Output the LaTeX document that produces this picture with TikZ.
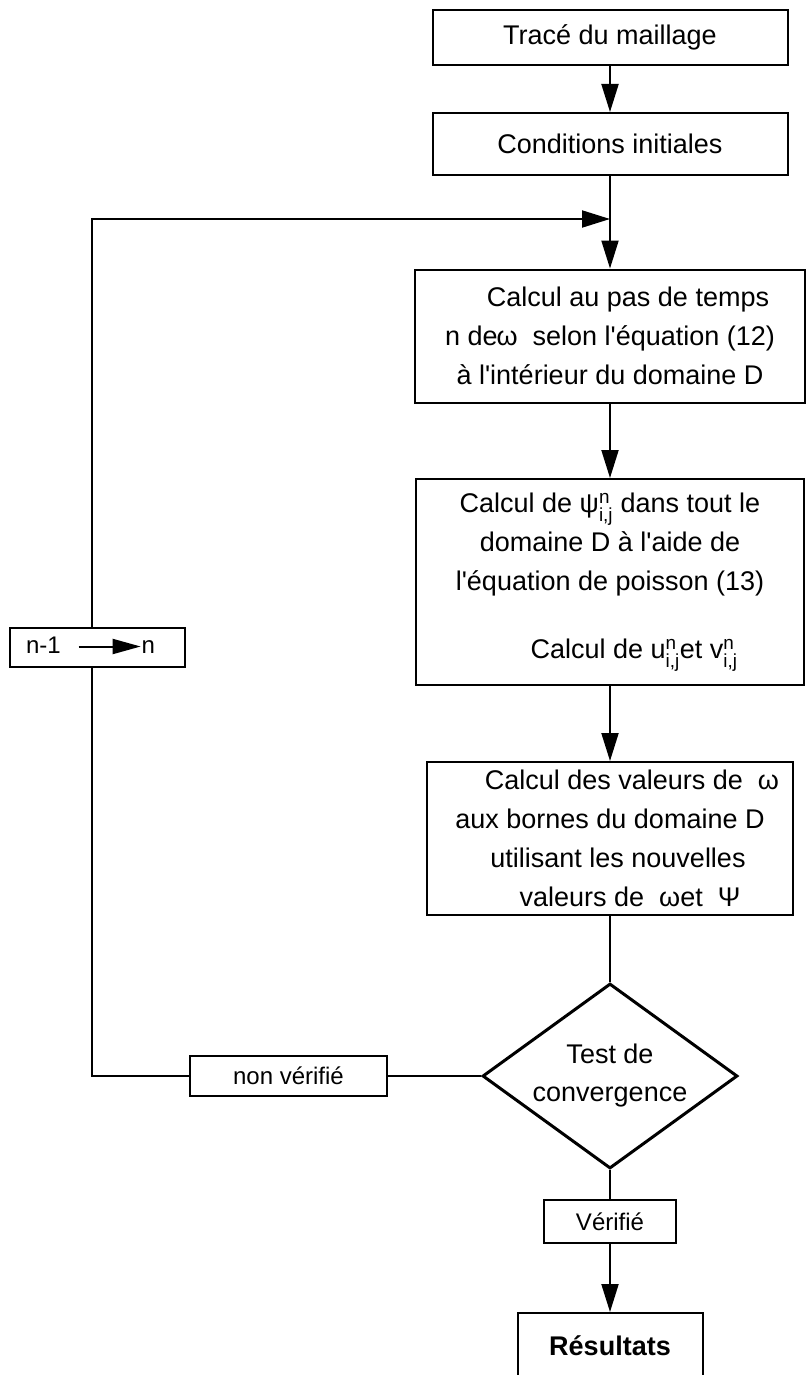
\documentclass[tikz,border=0pt]{standalone}
\usepackage{fontspec}
\defaultfontfeatures[\rmfamily]{}
\setmainfont{Liberation Sans}
\usepackage{amsmath}
\usetikzlibrary{arrows.meta,shapes.geometric}

% indices n / i,j empiles
\newcommand{\nij}{\ensuremath{^{\text{n}}_{\text{i,j}}}}

\begin{document}
\begin{tikzpicture}[x=1pt, y=-1pt, line width=2pt, line join=miter,
  boite/.style={draw, line width=2pt, inner sep=0pt, align=center,
    font=\fontsize{27}{39}\selectfont},
  petite/.style={draw, line width=2pt, inner sep=0pt,
    font=\fontsize{24}{30}\selectfont},
  decision/.style={diamond, draw, line width=3pt, inner sep=0pt,
    minimum width=255pt, minimum height=185pt},
  fleche/.style={-{Triangle[width=17pt,length=28pt]}}]

  %% ════ cadre ════
  \useasboundingbox (0,0) rectangle (808,1375);
  \clip (0,0) rectangle (808,1375);

  %% ════ colonne principale ════
  \node[boite, minimum width=355pt, minimum height=55pt] (trace) at (610,37.5) {Tracé du maillage};
  \node[boite, minimum width=355pt, minimum height=62pt] (cond) at (610,144) {Conditions initiales};
  \node[boite, minimum width=390pt, minimum height=133pt] (pas) at (610,336) {%
    \hspace*{36pt}Calcul au pas de temps\\
    n de\kern-1pt ω\ \ selon l'équation (12)\\
    à l'intérieur du domaine D};
  \node[boite, minimum width=388pt, minimum height=206pt] (psi) at (610,582) {%
    Calcul de ψ\nij\ dans tout le\\
    domaine D à l'aide de\\
    l'équation de poisson (13)\\[29pt]
    \hspace*{48pt}Calcul de u\nij et v\nij};
  \node[boite, minimum width=366pt, minimum height=153pt] (bornes) at (610,838.5) {%
    \hspace*{44pt}Calcul des valeurs de\ \ ω\\
    aux bornes du domaine D\\
    \hspace*{16pt}utilisant les nouvelles\\
    \hspace*{40pt}valeurs de\ \ ωet\ \ Ψ};

  %% ════ test ════
  \node[decision, label={[name=testlbl, font=\fontsize{27}{38}\selectfont, align=center]center:Test de\\convergence}] (test) at (610,1076) {};
  \node[petite, minimum width=197pt, minimum height=40pt] (nonverif) at (288.5,1076) {non vérifié};
  \node[petite, minimum width=132pt, minimum height=43pt] (verif) at (610,1221.5) {Vérifié};
  \node[boite, minimum width=185pt, minimum height=66pt,
        font=\bfseries\fontsize{27}{39}\selectfont] (result) at (610,1346) {Résultats};

  %% ════ n-1 -> n ════
  \node[petite, minimum width=175pt, minimum height=39pt] (iter) at (97.5,647.5) {};
  \node[font=\fontsize{24}{30}\selectfont, inner sep=0pt, text height=18pt, text depth=5pt,
        anchor=base west] (nmoins) at (25,653) {n-1};
  \node[font=\fontsize{24}{30}\selectfont, inner sep=0pt, text height=18pt, text depth=5pt,
        anchor=base east] (nplus) at (156,653) {n};
  \draw[-{Triangle[width=15pt,length=28pt]}, shorten <=17pt] (nmoins.east) -- (nplus.west);

  %% ════ liaisons ════
  \draw[fleche] (trace) -- (cond);
  \draw[fleche] (cond) -- (pas);
  \draw[fleche] (pas) -- (psi);
  \draw[fleche] (psi) -- (bornes);
  \draw (bornes) -- (test);
  \draw (test) -- (verif);
  \draw[fleche] (verif) -- (result);

  %% boucle de retour
  \coordinate (basgauche) at (92,1076);
  \coordinate (hautgauche) at (92,219);
  \coordinate (jonction) at (610,219);
  \draw (test.west) -- (nonverif.east);
  \draw (nonverif.west) -- (basgauche) -- (basgauche |- iter.south);
  \draw[fleche] (basgauche |- iter.north) -- (hautgauche) -- (jonction);
\end{tikzpicture}
\end{document}
